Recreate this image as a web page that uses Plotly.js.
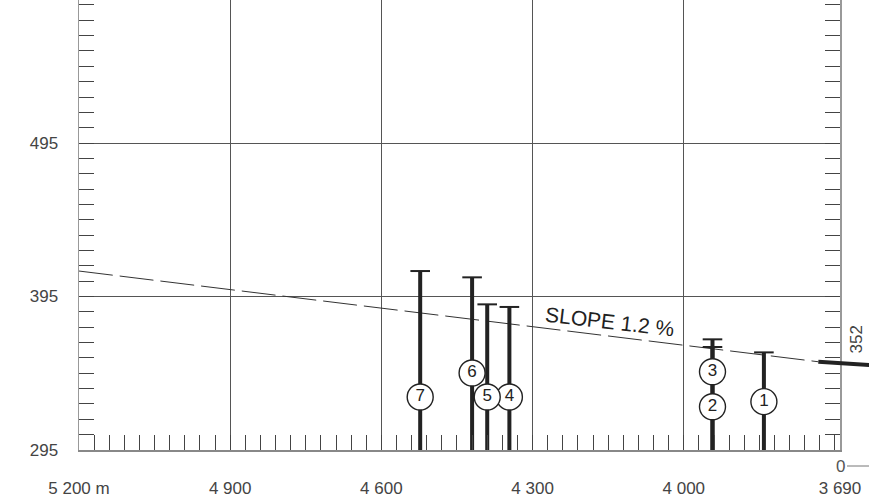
<!DOCTYPE html>
<html>
<head>
<meta charset="utf-8">
<script src="https://cdn.plot.ly/plotly-3.0.1.min.js"></script>
<style>html,body{margin:0;padding:0;background:#fff;}#chart{width:869px;height:495px;}</style>
</head>
<body>
<div id="chart"></div>
<script>
// ---- data ----
var xTickVals = [5200, 4900, 4600, 4300, 4000, 3690];
var xTickText = ['5 200 m', '4 900', '4 600', '4 300', '4 000', '3 690'];
var yTickVals = [295, 395, 495];
var yTickText = ['295', '395', '495'];

var poleX   = [3841, 3943, 3943, 4346, 4390, 4420, 4523];
var poleTop = [358.6, 362.1, 367.1, 388.2, 389.9, 407.5, 411.6];
var poleBase = 295;

var labelNames = ['1', '2', '3', '4', '5', '6', '7'];
var labelX = [3841, 3943, 3943, 4346, 4390, 4420, 4523];
var labelY = [326.5, 323.2, 346.0, 329.5, 329.5, 345.2, 329.5];

var slopeX = [5200, 3733];
var slopeY = [411.6, 352.5];
var slopeLabel = 'SLOPE 1.2 %';
var slopeLabelX = 4146;
var slopeLabelY = 378.5;

var groundX = [3733, 3632];
var groundY = [352.5, 350.3];
var endLabel = '352';
var zeroLabel = '0';

// ---- build traces ----
var pX = [], pY = [];
for (var i = 0; i < poleX.length; i++) {
  pX.push(poleX[i], poleX[i], null);
  pY.push(poleBase, poleTop[i], null);
}

var traces = [
  { x: slopeX, y: slopeY, mode: 'lines', xaxis: 'x', yaxis: 'y',
    line: { color: '#333', width: 1, dash: '34px,7px' }, hoverinfo: 'skip' },
  { x: pX, y: pY, mode: 'lines', xaxis: 'x', yaxis: 'y',
    line: { color: '#222', width: 4 }, hoverinfo: 'skip' },
  { x: poleX, y: poleTop, mode: 'markers', xaxis: 'x', yaxis: 'y',
    marker: { symbol: 'line-ew', size: 14, line: { color: '#222', width: 2 } }, hoverinfo: 'skip' },
  { x: labelX, y: labelY, mode: 'markers+text', xaxis: 'x', yaxis: 'y',
    text: labelNames, textposition: 'middle center',
    textfont: { family: 'Liberation Sans, Arial, sans-serif', size: 17, color: '#222' },
    marker: { symbol: 'circle', size: 26, color: '#fff', line: { color: '#222', width: 1.4 } },
    hoverinfo: 'skip' },
  { x: [null], y: [null], xaxis: 'x', yaxis: 'y2', mode: 'lines', hoverinfo: 'skip' },
  { x: groundX, y: groundY, mode: 'lines', xaxis: 'x2', yaxis: 'y3',
    line: { color: '#222', width: 4 }, hoverinfo: 'skip' }
];

var lblFont = { family: 'Liberation Sans, Arial, sans-serif', size: 17, color: '#444' };
var yRange = [295, 588.2];

var layout = {
  width: 869, height: 495,
  margin: { l: 79, r: 0, t: 0, b: 45, pad: 0 },
  paper_bgcolor: '#fff', plot_bgcolor: 'rgba(0,0,0,0)',
  showlegend: false,
  xaxis: {
    domain: [0, 761 / 790], range: [5200, 3690], anchor: 'y',
    tickmode: 'array', tickvals: xTickVals, ticktext: xTickText,
    ticks: 'inside', ticklen: 15, tickwidth: 1, tickcolor: '#444',
    showgrid: true, gridcolor: '#555', gridwidth: 1,
    showline: true, linecolor: '#888', linewidth: 1.5,
    zeroline: false, tickfont: lblFont, ticklabelstandoff: 22,
    minor: { tick0: 5200, dtick: 30, ticks: 'inside', ticklen: 15, tickwidth: 1, tickcolor: '#444', showgrid: false },
    fixedrange: true
  },
  xaxis2: {
    domain: [0, 1], range: [5200, 3632.5], anchor: 'y3', visible: false, fixedrange: true
  },
  yaxis: {
    range: yRange, anchor: 'x',
    tickmode: 'array', tickvals: yTickVals, ticktext: yTickText,
    ticks: 'inside', ticklen: 15, tickwidth: 1, tickcolor: '#444',
    showgrid: true, gridcolor: '#555', gridwidth: 1,
    showline: true, linecolor: '#999', linewidth: 1.5,
    zeroline: false, tickfont: lblFont, ticklabelstandoff: 16,
    minor: { tick0: 295, dtick: 10, ticks: 'inside', ticklen: 15, tickwidth: 1, tickcolor: '#444', showgrid: false },
    fixedrange: true
  },
  yaxis2: {
    overlaying: 'y', range: yRange, side: 'right', anchor: 'x',
    tickmode: 'array', tickvals: yTickVals, showticklabels: false,
    ticks: 'inside', ticklen: 15, tickwidth: 1, tickcolor: '#444',
    showgrid: false, showline: true, linecolor: '#999', linewidth: 1.5, zeroline: false,
    minor: { tick0: 295, dtick: 10, ticks: 'inside', ticklen: 15, tickwidth: 1, tickcolor: '#444', showgrid: false },
    fixedrange: true
  },
  yaxis3: {
    domain: [0, 1], range: yRange, anchor: 'x2', visible: false, fixedrange: true
  },
  shapes: [
    { type: 'line', xref: 'paper', yref: 'paper',
      x0: (847 - 79) / 790, x1: 1, y0: -16 / 450, y1: -16 / 450,
      line: { color: '#777', width: 1 } }
  ],
  annotations: [
    { text: slopeLabel, x: slopeLabelX, y: slopeLabelY, xref: 'x', yref: 'y',
      showarrow: false, textangle: 6.6,
      font: { family: 'Liberation Sans, Arial, sans-serif', size: 21, color: '#222' } },
    { text: endLabel, x: (867 - 79) / 790, y: (450 - 356) / 450, xref: 'paper', yref: 'paper',
      showarrow: false, textangle: -90,
      font: { family: 'Liberation Sans, Arial, sans-serif', size: 17, color: '#444' } },
    { text: zeroLabel, x: (840 - 79) / 790, y: -16 / 450, xref: 'paper', yref: 'paper',
      xanchor: 'center', yanchor: 'middle', showarrow: false,
      font: { family: 'Liberation Sans, Arial, sans-serif', size: 17, color: '#555' } }
  ]
};

Plotly.newPlot('chart', traces, layout, { staticPlot: true, displayModeBar: false });
</script>
</body>
</html>
